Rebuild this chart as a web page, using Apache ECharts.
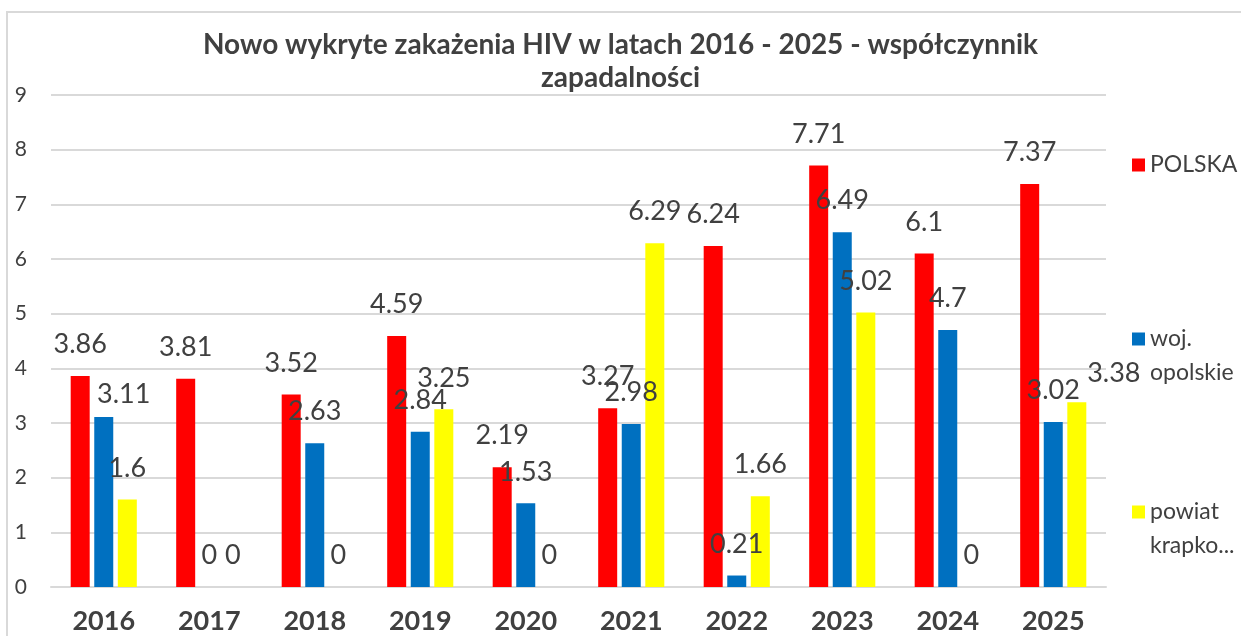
<!DOCTYPE html>
<html>
<head>
<meta charset="utf-8">
<script src="https://cdn.jsdelivr.net/npm/echarts@6/dist/echarts.min.js"></script>
<style>
  html, body { margin: 0; padding: 0; background: #fff; }
  #chart { width: 1241px; height: 636px; }
</style>
</head>
<body>
<div id="chart"></div>
<script>
// dane
const years = ['2016', '2017', '2018', '2019', '2020', '2021', '2022', '2023', '2024', '2025'];
const polska = [3.86, 3.81, 3.52, 4.59, 2.19, 3.27, 6.24, 7.71, 6.1, 7.37];
const opolskie = [3.11, 0, 2.63, 2.84, 1.53, 2.98, 0.21, 6.49, 4.7, 3.02];
const krapkowicki = [1.6, 0, 0, 3.25, 0, 6.29, 1.66, 5.02, 0, 3.38];
const yTicks = [0, 1, 2, 3, 4, 5, 6, 7, 8, 9];

const FONT = 'Lato';
const TXT = '#404040';

// etykiety przesunięte ręcznie (jak w oryginale)
const labelNudge = {
  'woj. opolskie': { 0: [20, 9] },
  'powiat krapko...': { 9: [37, 3] }
};

const makeSeries = (name, values, color) => ({
  name: name,
  type: 'bar',
  barWidth: 19,
  barGap: '24%',
  itemStyle: { color: color },
  label: {
    show: true,
    position: 'top',
    distance: 18,
    fontFamily: FONT,
    fontSize: 27,
    lineHeight: 27,
    color: TXT
  },
  data: values.map((v, i) => {
    const n = labelNudge[name] && labelNudge[name][i];
    return n ? { value: v, label: { offset: n } } : v;
  })
});

const legendText = {
  fontFamily: FONT,
  fontSize: 23,
  color: TXT,
  lineHeight: 34
};

// pusta pierwsza linia -> ikonka na wysokości pierwszej linii tekstu
const twoLines = (n) => '\n' + n.replace(' ', '\n');

const legendBase = {
  orient: 'vertical',
  left: 1132,
  padding: 0,
  icon: 'rect',
  itemWidth: 13,
  itemHeight: 13,
  textStyle: legendText
};

const options = {
  animation: false,
  title: {
    text: 'Nowo wykryte zakażenia HIV w latach 2016 - 2025 - współczynnik\nzapadalności',
    left: 'center',
    top: 28,
    padding: 0,
    textStyle: {
      fontFamily: FONT,
      fontSize: 28,
      fontWeight: 'bold',
      color: TXT,
      lineHeight: 33
    }
  },
  graphic: [{
    type: 'rect',
    z: -10,
    shape: { x: 7, y: 12, width: 1300, height: 700 },
    style: { fill: 'none', stroke: '#d9d9d9', lineWidth: 2 }
  }],
  legend: [
    Object.assign({}, legendBase, { data: ['POLSKA'], top: 148 }),
    Object.assign({}, legendBase, { data: ['woj. opolskie'], top: 288, formatter: twoLines }),
    Object.assign({}, legendBase, { data: ['powiat krapko...'], top: 461, formatter: twoLines })
  ],
  grid: {
    left: 51,
    right: 135,
    top: 95,
    bottom: 49,
    containLabel: false
  },
  xAxis: {
    type: 'category',
    data: years,
    axisLine: {
      show: true,
      lineStyle: { color: '#d9d9d9', width: 2 }
    },
    axisTick: { show: false },
    axisLabel: {
      margin: 21,
      fontFamily: FONT,
      fontSize: 27,
      fontWeight: 'bold',
      color: TXT
    }
  },
  yAxis: {
    type: 'value',
    min: yTicks[0],
    max: yTicks[yTicks.length - 1],
    interval: 1,
    axisLine: { show: false },
    axisTick: { show: false },
    axisLabel: {
      margin: 24,
      fontFamily: FONT,
      fontSize: 21,
      color: TXT
    },
    splitLine: {
      show: true,
      lineStyle: { color: '#d9d9d9', width: 2 }
    }
  },
  series: [
    makeSeries('POLSKA', polska, '#ff0000'),
    makeSeries('woj. opolskie', opolskie, '#0070c0'),
    makeSeries('powiat krapko...', krapkowicki, '#ffff00')
  ]
};

const myChart = echarts.init(document.getElementById('chart'));
myChart.setOption(options);
</script>
</body>
</html>
